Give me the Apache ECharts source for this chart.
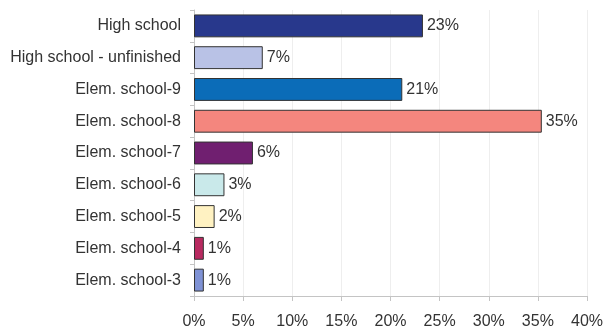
<!DOCTYPE html>
<html>
<head>
<meta charset="utf-8">
<script src="https://cdn.jsdelivr.net/npm/echarts@6/dist/echarts.min.js"></script>
<style>
  html, body { margin: 0; padding: 0; background: #fff; }
  #main { width: 604px; height: 328px; }
</style>
</head>
<body>
<div id="main"></div>
<script>
// categories, top to bottom
var categories = ['High school', 'High school - unfinished', 'Elem. school-9', 'Elem. school-8',
  'Elem. school-7', 'Elem. school-6', 'Elem. school-5', 'Elem. school-4', 'Elem. school-3'];
// share in percent
var shares = [23.3, 7.0, 21.2, 35.4, 6.0, 3.1, 2.1, 1.0, 1.0];
var barColors = ['#28388c', '#b9c2e6', '#0b6cb8', '#f4867e', '#701f70', '#c9e9ea', '#fff2c2', '#b82a60', '#7f92d5'];
var xTicks = [0, 5, 10, 15, 20, 25, 30, 35, 40];

var font = 'Liberation Sans, Arial, sans-serif';
var chart = echarts.init(document.getElementById('main'));

var option = {
  animation: false,
  grid: { left: 194, right: 17, top: 10, bottom: 32, outerBoundsMode: 'none' },
  xAxis: {
    type: 'value',
    min: xTicks[0],
    max: xTicks[xTicks.length - 1],
    interval: 5,
    axisLine: { show: true, lineStyle: { color: '#c4c4c4' } },
    axisTick: { show: true, length: 5, lineStyle: { color: '#c4c4c4' } },
    axisLabel: { formatter: '{value}%', color: '#333', fontSize: 16, margin: 18, fontFamily: font },
    splitLine: { show: true, lineStyle: { color: '#eeeeee' } }
  },
  yAxis: {
    type: 'category',
    data: categories,
    inverse: true,
    axisLine: { show: true, lineStyle: { color: '#c4c4c4' } },
    axisTick: { show: true, length: 4, lineStyle: { color: '#c4c4c4' } },
    axisLabel: { color: '#333', fontSize: 16, margin: 13, fontFamily: font }
  },
  series: [{
    type: 'bar',
    barCategoryGap: '28%',
    data: shares.map(function (v, i) {
      return { value: v, itemStyle: { color: barColors[i] } };
    }),
    itemStyle: { borderColor: '#333', borderWidth: 1 },
    label: {
      show: true,
      position: 'right',
      distance: 4,
      color: '#333',
      fontSize: 16,
      fontFamily: font,
      formatter: function (p) { return Math.round(p.value) + '%'; }
    }
  }]
};

chart.setOption(option);
</script>
</body>
</html>
